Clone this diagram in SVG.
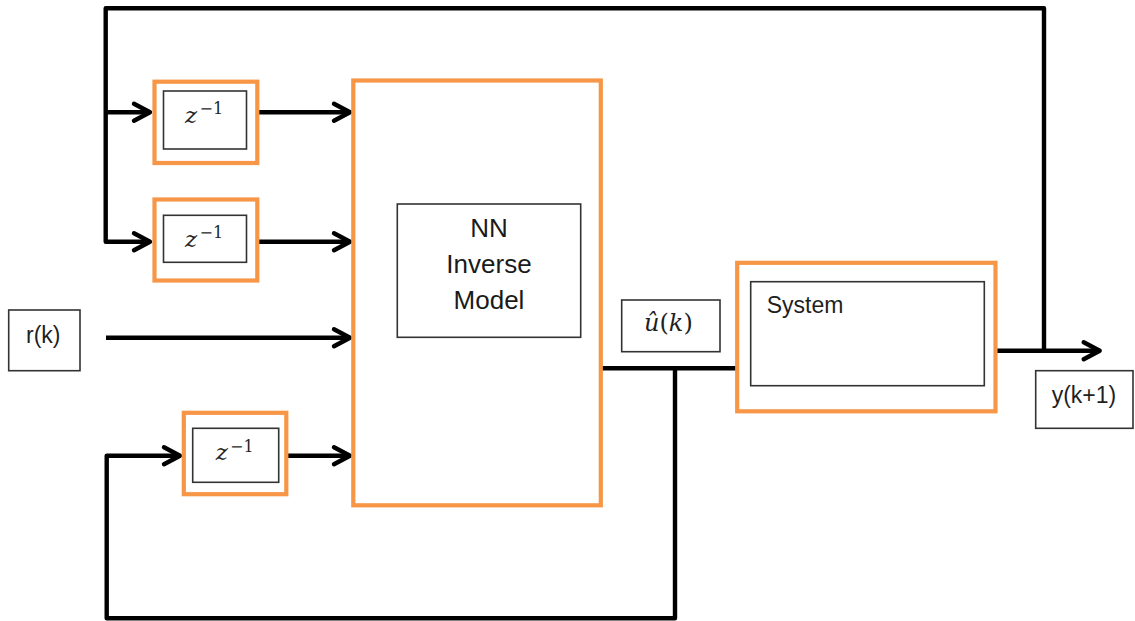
<svg xmlns="http://www.w3.org/2000/svg" width="1135" height="621" viewBox="0 0 1135 621">
<style>
.outer{fill:none;stroke:#F79646;stroke-width:4.2}
.inner{fill:#fff;stroke:#333;stroke-width:1.6}
.box{fill:#fff;stroke:#333;stroke-width:1.6}
.wire{fill:none;stroke:#000;stroke-width:4.4;stroke-linejoin:round}
.arr{marker-end:url(#ah)}
.sans{font-family:"Liberation Sans",Arial,sans-serif;font-size:23px;fill:#1f1f1f}
.nn{font-family:"Liberation Sans",Arial,sans-serif;font-size:26px;fill:#1a1a1a;text-anchor:middle}
.z{font-family:"DejaVu Serif","Liberation Serif",serif;font-style:italic;font-size:23px;fill:#1f1f1f}
.sup{font-family:"DejaVu Serif","Liberation Serif",serif;font-size:16px;fill:#1f1f1f}
.math{font-family:"DejaVu Serif","Liberation Serif",serif;font-size:24px;fill:#1f1f1f}
</style>
<defs>
<marker id="ah" markerUnits="userSpaceOnUse" markerWidth="26" markerHeight="26" viewBox="-20 -13 26 26" refX="0" refY="0" orient="auto" overflow="visible">
<path d="M-16,-8.5 L0,0 L-16,8.5" fill="none" stroke="#000" stroke-width="4.4" stroke-linecap="round" stroke-linejoin="round"/>
</marker>
</defs>
<rect width="1135" height="621" fill="#fff"/>

<g id="connectors">
<path class="wire arr" d="M1044,350.7 V8.3 H105.7 V241.7 H150"/>
<path class="wire arr" d="M105.7,112.3 H150"/>
<path class="wire arr" d="M259,112.3 H350"/>
<path class="wire arr" d="M259,241.7 H350"/>
<path class="wire arr" d="M106,337.7 H350"/>
<path class="wire arr" d="M288,455.7 H350"/>
<path class="wire arr" d="M675,368.3 V618.3 H106.7 V455.7 H180"/>
<path class="wire" d="M602,368.3 H736"/>
<path class="wire arr" d="M997,350.7 H1099.7"/>
</g>

<g id="delay1">
<rect class="outer" x="154.5" y="81.7" width="102.8" height="81.3"/>
<rect class="inner" x="163.5" y="91" width="83" height="58"/>
<text class="z" x="185" y="122.7">z</text>
<text class="sup" x="199.5" y="114">−1</text>
</g>

<g id="delay2">
<rect class="outer" x="154.5" y="199.5" width="102.8" height="81"/>
<rect class="inner" x="163.5" y="215.3" width="83" height="47"/>
<text class="z" x="185" y="246.7">z</text>
<text class="sup" x="199.5" y="238">−1</text>
</g>

<g id="delay3">
<rect class="outer" x="183.8" y="412.8" width="102.5" height="81.4"/>
<rect class="inner" x="192.7" y="428.3" width="86" height="54"/>
<text class="z" x="215.7" y="460">z</text>
<text class="sup" x="230" y="451.7">−1</text>
</g>

<g id="nn-model">
<rect class="outer" x="353.3" y="80.5" width="247.5" height="424.8"/>
<rect class="inner" x="397.3" y="204" width="183.4" height="133.3"/>
<text class="nn" x="489" y="236.5">NN</text>
<text class="nn" x="489" y="273">Inverse</text>
<text class="nn" x="489" y="309">Model</text>
</g>

<g id="r-k">
<rect class="box" x="8.7" y="310" width="71.3" height="60.7"/>
<text class="sans" x="26" y="343.3">r(k)</text>
</g>

<g id="u-hat">
<rect class="box" x="621.7" y="300" width="98.3" height="51.7"/>
<text class="math" x="644" y="331"><tspan font-style="italic">û</tspan>(<tspan font-style="italic">k</tspan>)</text>
</g>

<g id="system">
<rect class="outer" x="737.2" y="262.8" width="258.3" height="148.5"/>
<rect class="inner" x="750.7" y="281.7" width="233.6" height="104"/>
<text class="sans" x="766.7" y="313.3">System</text>
</g>

<g id="y-out">
<rect class="box" x="1035.7" y="370.7" width="97.3" height="57.6"/>
<text class="sans" x="1051.7" y="402.7">y(k+1)</text>
</g>
</svg>
